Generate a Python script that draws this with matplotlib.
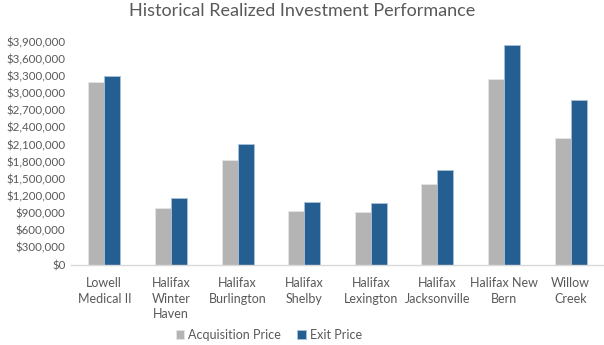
import matplotlib
matplotlib.use("Agg")
import matplotlib.pyplot as plt
import numpy as np
from matplotlib.ticker import FuncFormatter

# data
properties = ["Lowell\nMedical II", "Halifax\nWinter\nHaven", "Halifax\nBurlington",
              "Halifax\nShelby", "Halifax\nLexington", "Halifax\nJacksonville",
              "Halifax New\nBern", "Willow\nCreek"]
acquisition_price = [3200000, 990000, 1830000, 930000, 920000, 1410000, 3240000, 2210000]
exit_price = [3290000, 1170000, 2110000, 1090000, 1080000, 1660000, 3840000, 2880000]
y_ticks = list(range(0, 3900001, 300000))

plt.rcParams['font.family'] = ['Lato', 'DejaVu Sans']
text_color = '#595959'

fig = plt.figure(figsize=(6.04, 3.45), dpi=100)
ax = fig.add_axes([0.1175, 0.2333, 0.8825, 0.6464])

x = np.arange(len(properties))
w = 0.24
ax.bar(x - w / 2, acquisition_price, w, color='#B4B4B4', edgecolor='#E6E6E6',
       linewidth=0.6, label='Acquisition Price')
ax.bar(x + w / 2, exit_price, w, color='#255E91', edgecolor='#A9C0D8',
       linewidth=0.6, label='Exit Price')

ax.set_xlim(-0.5, len(properties) - 0.5)
ax.set_ylim(0, 3900000)
ax.set_yticks(y_ticks)
ax.yaxis.set_major_formatter(FuncFormatter(lambda v, p: f"${v:,.0f}"))
ax.set_xticks(x)
ax.set_xticklabels(properties, linespacing=1.35)

for s in ['top', 'right', 'left']:
    ax.spines[s].set_visible(False)
ax.spines['bottom'].set_color('#D9D9D9')
ax.spines['bottom'].set_linewidth(1.0)
ax.tick_params(axis='both', length=0, colors=text_color, labelsize=9)
ax.tick_params(axis='x', pad=9)
ax.tick_params(axis='y', pad=4, labelsize=8.3)

fig.suptitle('Historical Realized Investment Performance', y=0.99,
             fontsize=13, color=text_color)

leg = fig.legend(loc='lower center', bbox_to_anchor=(0.445, -0.02), ncol=2,
                 frameon=False, fontsize=9, handlelength=0.7, handleheight=0.7,
                 handletextpad=0.3, columnspacing=1.3)
for t in leg.get_texts():
    t.set_color(text_color)

fig.savefig('out.png', dpi=100)
